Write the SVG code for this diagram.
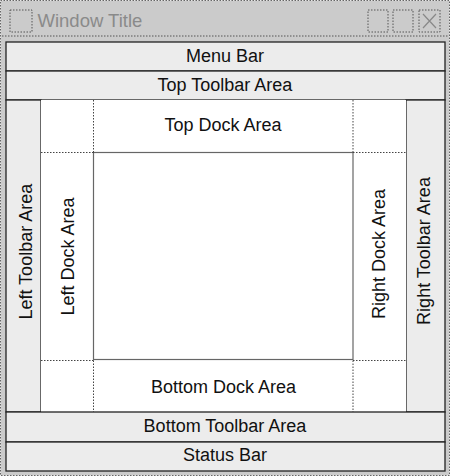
<svg xmlns="http://www.w3.org/2000/svg" width="450" height="476" viewBox="0 0 450 476">
<style>
text{font-family:"Liberation Sans",Arial,sans-serif;font-size:18px;fill:#111;text-anchor:middle}
.bar{fill:#ececec;stroke:#222;stroke-width:1.3}
.dot{fill:none;stroke:#444;stroke-width:1;stroke-dasharray:1.5 1.5}
.tb{fill:none;stroke:#555;stroke-width:1;stroke-dasharray:1.5 1.5}
</style>
<g id="window">
<rect x="0.5" y="0.5" width="449" height="475" fill="#cbcbcb" stroke="#666" stroke-dasharray="1.5 1.5"/>
<line x1="2" y1="36" x2="448" y2="36" class="tb"/>
<rect x="10" y="10" width="22" height="22" class="tb"/>
<rect x="368" y="10" width="20" height="22" class="tb"/>
<rect x="393" y="10" width="20" height="22" class="tb"/>
<rect x="419" y="10" width="21" height="22" class="tb"/>
<path d="M423 14L436 28M436 14L423 28" stroke="#888" stroke-width="1.2" fill="none"/>
<text x="37.5" y="27.3" style="text-anchor:start;fill:#8a8a8a;font-size:18.5px">Window Title</text>
</g>
<g id="menu-bar"><rect class="bar" x="6" y="42" width="439" height="29"/><text x="225" y="61.7">Menu Bar</text></g>
<g id="top-toolbar"><rect class="bar" x="6" y="71" width="439" height="29"/><text x="225" y="90.7">Top Toolbar Area</text></g>
<g id="left-toolbar"><rect class="bar" x="6" y="100" width="35" height="312"/><text transform="translate(31.7 251.7) rotate(-90)">Left Toolbar Area</text></g>
<g id="right-toolbar"><rect class="bar" x="406" y="100" width="39" height="312"/><text transform="translate(430 251) rotate(-90)">Right Toolbar Area</text></g>
<g id="dock-region"><rect x="41" y="100" width="365" height="312" fill="#fff"/></g>
<g id="top-dock"><text x="223" y="130.7">Top Dock Area</text></g>
<g id="bottom-dock"><text x="223.5" y="392.7">Bottom Dock Area</text></g>
<g id="left-dock"><text transform="translate(74 256.5) rotate(-90)">Left Dock Area</text></g>
<g id="right-dock"><text transform="translate(384.5 254) rotate(-90)">Right Dock Area</text></g>
<g id="central"><rect x="93.5" y="152.5" width="259.5" height="207" fill="#fff" stroke="#666" stroke-width="1.2"/></g>
<g id="connectors">
<path class="dot" d="M93.5 100V152.5M41 152.5H93.5M353 100V152.5M353 152.5H406M41 360.5H93.5M93.5 360.5V412M353 360.5H406M353 360.5V412"/>
</g>
<g id="bottom-toolbar"><rect class="bar" x="6" y="412" width="439" height="30"/><text x="225" y="431.7">Bottom Toolbar Area</text></g>
<g id="status-bar"><rect class="bar" x="6" y="442" width="439" height="29"/><text x="225" y="460.7">Status Bar</text></g>
</svg>
